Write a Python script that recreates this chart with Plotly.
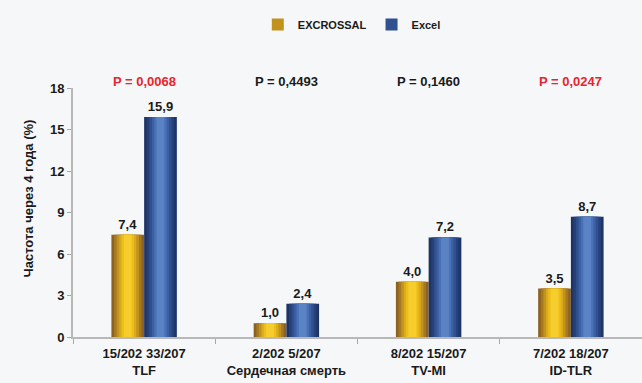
import plotly.graph_objects as go

categories = ["TLF", "Сердечная смерть", "TV-MI", "ID-TLR"]
counts_a = ["15/202", "2/202", "8/202", "7/202"]
counts_b = ["33/207", "5/207", "15/207", "18/207"]
excrossal = [7.4, 1.0, 4.0, 3.5]
excel = [15.9, 2.4, 7.2, 8.7]
p_values = ["P = 0,0068", "P = 0,4493", "P = 0,1460", "P = 0,0247"]
p_significant = [True, False, False, True]
y_ticks = [0, 3, 6, 9, 12, 15, 18]
y_title = "Частота через 4 года (%)"

FONT = "Liberation Sans, Arial, sans-serif"
BG = "#F6F7F9"

gold_layers = ["#8C6220", "#A67823", "#C2921F", "#DAAB1C", "#EDBF1A", "#F6CD2C"]
blue_layers = ["#1D3465", "#26417A", "#30508E", "#3B60A3", "#4A71B6", "#5983C4"]
layer_frac = [1.0, 0.84, 0.68, 0.52, 0.38, 0.24]

W = 0.23
fig = go.Figure()

def add_series(name, values, colors, center):
    for i, (c, f) in enumerate(zip(colors, layer_frac)):
        w = W * f
        fig.add_trace(go.Bar(
            x=categories, y=values, name=name,
            width=[w] * len(values), offset=[center - w / 2] * len(values),
            marker=dict(color=c, line=dict(width=0)),
            showlegend=(i == 2), legendgroup=name,
            texttemplate="%{y:.1f}" if i == 0 else None,
            textposition="outside" if i == 0 else "none",
            textfont=dict(family=FONT, size=13, color="#1a1a1a", weight="bold"),
            cliponaxis=False,
            hoverinfo="skip" if i else None,
        ))

add_series("EXCROSSAL", excrossal, gold_layers, -W / 2)
add_series("Excel", excel, blue_layers, W / 2)

ticktext = [f"{a} {b}<br>{c}" for a, b, c in zip(counts_a, counts_b, categories)]

for cat, p, sig in zip(categories, p_values, p_significant):
    fig.add_annotation(x=cat, y=1.065, xref="x", yref="paper", text=p, showarrow=False,
                       font=dict(family=FONT, size=13, weight="bold",
                                 color="#E8252B" if sig else "#1a1a1a"))

fig.add_annotation(x=-0.078, y=0.555, xref="paper", yref="paper", text=y_title,
                   textangle=-90, showarrow=False, xanchor="center", yanchor="middle",
                   font=dict(family=FONT, size=13, weight="bold", color="#1a1a1a"))

fig.update_layout(
    width=642, height=383,
    margin=dict(l=73, r=0, t=88, b=46),
    paper_bgcolor=BG, plot_bgcolor=BG,
    barmode="overlay", separators=", ",
    font=dict(family=FONT, size=12, color="#1a1a1a"),
    legend=dict(orientation="h", x=0.49, xanchor="center", y=1.255, yanchor="middle",
                font=dict(family=FONT, size=11, weight="bold"), bgcolor="rgba(0,0,0,0)",
                traceorder="normal"),
    xaxis=dict(type="category", range=[-0.5, 3.5], tickvals=categories, ticktext=ticktext,
               tickson="boundaries", ticks="outside", ticklen=5, tickcolor="#A8A8A8",
               showline=True, linecolor="#B8B8B8", linewidth=2, showgrid=False,
               ticklabelstandoff=3,
               tickfont=dict(family=FONT, size=13, weight="bold")),
    yaxis=dict(range=[0, 18], tickvals=y_ticks, ticks="outside", ticklen=4, tickcolor="#A8A8A8",
               showline=True, linecolor="#B8B8B8", linewidth=2, showgrid=False, zeroline=False,
               tickfont=dict(family=FONT, size=13, weight="bold")),
)

fig.write_html("out.html")
